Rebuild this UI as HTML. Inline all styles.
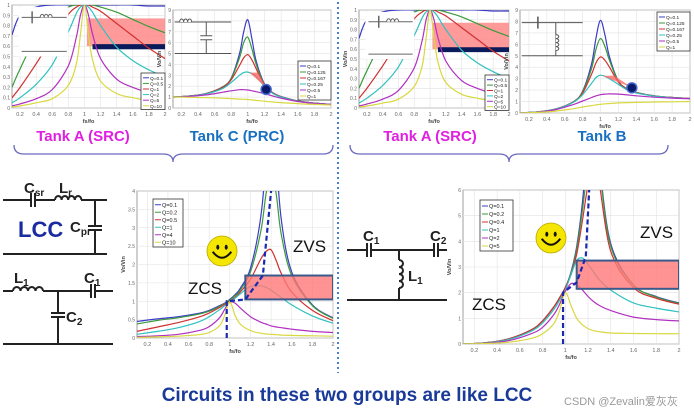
<!DOCTYPE html>
<html><head><meta charset="utf-8">
<style>
html,body{margin:0;padding:0;background:#fff;}
svg{display:block;font-family:"Liberation Sans","Noto Sans CJK SC",sans-serif;}
</style></head>
<body>
<svg id="s" width="694" height="417" viewBox="0 0 694 417" xmlns="http://www.w3.org/2000/svg">
<rect width="694" height="417" fill="#fff"/>
<g id="plots"></g>
<line x1="338" y1="2" x2="338" y2="373" stroke="#4a7fd0" stroke-width="2" stroke-dasharray="2,3"/>
<text x="83" y="141" font-size="15" font-weight="bold" fill="#e020e0" text-anchor="middle">Tank A (SRC)</text>
<text x="237" y="141" font-size="15" font-weight="bold" fill="#1a70c0" text-anchor="middle">Tank C (PRC)</text>
<text x="430" y="141" font-size="15" font-weight="bold" fill="#e020e0" text-anchor="middle">Tank A (SRC)</text>
<text x="602" y="141" font-size="15" font-weight="bold" fill="#1a70c0" text-anchor="middle">Tank B</text>
<path d="M14,145 Q14,154 24,154 L163,154 Q173,154 173,162 Q173,154 183,154 L323,154 Q333,154 333,145" fill="none" stroke="#6a6ac0" stroke-width="1.3"/>
<path d="M350,145 Q350,154 360,154 L499,154 Q509,154 509,162 Q509,154 519,154 L658,154 Q668,154 668,145" fill="none" stroke="#6a6ac0" stroke-width="1.3"/>
<text x="347" y="401" font-size="19" font-weight="bold" fill="#1a3a9a" text-anchor="middle">Circuits in these two groups are like LCC</text>
<text x="564" y="405" font-size="11" fill="#999">CSDN @Zevalin爱灰灰</text>

<g stroke="#222" stroke-width="2" fill="none">
<line x1="3" y1="200" x2="31" y2="200"/><line x1="31" y1="193" x2="31" y2="207"/><line x1="35" y1="193" x2="35" y2="207"/>
<line x1="35" y1="200" x2="55" y2="200"/>
<path d="M55,200 a3.3,4 0 0 1 6.6,0 a3.3,4 0 0 1 6.6,0 a3.3,4 0 0 1 6.6,0 a3.3,4 0 0 1 6.6,0"/>
<line x1="81" y1="200" x2="107" y2="200"/>
<line x1="95" y1="200" x2="95" y2="226"/><line x1="88" y1="226" x2="102" y2="226"/><line x1="88" y1="230" x2="102" y2="230"/><line x1="95" y1="230" x2="95" y2="254"/>
<line x1="3" y1="254" x2="107" y2="254"/>
</g>
<text x="24" y="193" font-size="15" font-weight="bold" fill="#222">C<tspan font-size="10" dy="3">sr</tspan></text>
<text x="59" y="193" font-size="15" font-weight="bold" fill="#222">L<tspan font-size="10" dy="3">r</tspan></text>
<text x="70" y="232" font-size="15" font-weight="bold" fill="#222">C<tspan font-size="10" dy="3">pr</tspan></text>
<text x="18" y="237" font-size="22" font-weight="bold" fill="#1a2aa0">LCC</text>
<g stroke="#222" stroke-width="2" fill="none">
<line x1="3" y1="291" x2="13" y2="291"/>
<path d="M13,291 a3.75,4 0 0 1 7.5,0 a3.75,4 0 0 1 7.5,0 a3.75,4 0 0 1 7.5,0 a3.75,4 0 0 1 7.5,0"/>
<line x1="43" y1="291" x2="91" y2="291"/><line x1="91" y1="284" x2="91" y2="298"/><line x1="95" y1="284" x2="95" y2="298"/><line x1="95" y1="291" x2="113" y2="291"/>
<line x1="58" y1="291" x2="58" y2="313"/><line x1="51" y1="313" x2="65" y2="313"/><line x1="51" y1="317" x2="65" y2="317"/><line x1="58" y1="317" x2="58" y2="344"/>
<line x1="3" y1="344" x2="113" y2="344"/>
</g>
<text x="14" y="283" font-size="15" font-weight="bold" fill="#222">L<tspan font-size="10" dy="3">1</tspan></text>
<text x="84" y="283" font-size="15" font-weight="bold" fill="#222">C<tspan font-size="10" dy="3">1</tspan></text>
<text x="66" y="322" font-size="15" font-weight="bold" fill="#222">C<tspan font-size="10" dy="3">2</tspan></text>
<g stroke="#222" stroke-width="2" fill="none">
<line x1="347" y1="250" x2="367" y2="250"/><line x1="367" y1="243" x2="367" y2="257"/><line x1="371" y1="243" x2="371" y2="257"/>
<line x1="371" y1="250" x2="434" y2="250"/><line x1="434" y1="243" x2="434" y2="257"/><line x1="438" y1="243" x2="438" y2="257"/><line x1="438" y1="250" x2="447" y2="250"/>
<line x1="399" y1="250" x2="399" y2="260"/>
<path d="M399,260 a4,3.5 0 0 1 0,7 a4,3.5 0 0 1 0,7 a4,3.5 0 0 1 0,7 a4,3.5 0 0 1 0,7"/>
<line x1="399" y1="288" x2="399" y2="300"/>
<line x1="347" y1="300" x2="447" y2="300"/>
</g>
<text x="363" y="241" font-size="15" font-weight="bold" fill="#222">C<tspan font-size="10" dy="3">1</tspan></text>
<text x="430" y="241" font-size="15" font-weight="bold" fill="#222">C<tspan font-size="10" dy="3">2</tspan></text>
<text x="408" y="281" font-size="15" font-weight="bold" fill="#222">L<tspan font-size="10" dy="3">1</tspan></text>
</svg>
<script>
const colors=["#3b3bc8","#3a9a3a","#d03030","#30c0c0","#b030c0","#d8d840"];
const xsSRC=[0.1,0.2,0.4,0.6,0.8,0.9,0.95,1,1.05,1.1,1.2,1.4,1.6,1.8,2];
const srcLabels=["Q=0.1","Q=0.5","Q=1","Q=2","Q=5","Q=10"];
const srcQ01=[0.71,0.9,0.98,1,1,1,1,1,1,1,1,1,1,0.99,0.99];
const srcQ05=[0.2,0.38,0.69,0.88,0.98,1,1,1,1,1,0.98,0.93,0.86,0.79,0.73];
const srcQ1=[0.1,0.2,0.43,0.68,0.91,0.98,1,1,1,0.98,0.94,0.82,0.7,0.58,0.48];
const srcQ2=[0.05,0.1,0.23,0.42,0.74,0.92,0.98,1,0.98,0.93,0.8,0.59,0.46,0.37,0.3];
const srcQ5=[0.02,0.04,0.09,0.18,0.41,0.69,0.9,1,0.9,0.72,0.48,0.28,0.2,0.15,0.12];
const srcQ10=[0.01,0.02,0.05,0.09,0.22,0.43,0.71,1,0.71,0.47,0.26,0.14,0.1,0.07,0.06];
const xsPRC=[0.1,0.3,0.5,0.7,0.8,0.9,0.95,1,1.05,1.1,1.2,1.3,1.4,1.6,1.8,2];
const prcLabels=["Q=0.1","Q=0.125","Q=0.167","Q=0.25","Q=0.5","Q=1"];
const prcQ1=[1.01,1.1,1.33,1.95,2.75,5.0,7.0,8.1,6.3,4.3,2.2,1.4,1.05,0.64,0.45,0.33];
const prcQ2=[1.01,1.1,1.33,1.94,2.7,4.6,6.0,6.5,5.4,4.0,2.15,1.4,1.04,0.64,0.45,0.33];
const prcQ3=[1.01,1.1,1.32,1.9,2.6,3.9,4.6,4.9,4.4,3.6,2.1,1.38,1.03,0.63,0.45,0.33];
const prcQ4=[1.0,1.09,1.3,1.8,2.35,3.0,3.25,3.3,3.15,2.9,2.0,1.33,1.0,0.62,0.44,0.33];
const prcQ5=[1.0,1.07,1.2,1.45,1.58,1.68,1.68,1.65,1.58,1.5,1.32,1.1,0.9,0.6,0.43,0.32];
const prcQ6=[1.0,0.98,0.95,0.9,0.86,0.82,0.8,0.78,0.74,0.7,0.62,0.55,0.5,0.4,0.33,0.28];
const tbQ1=[0,0.1,0.35,1.0,1.9,4.3,6.6,8.1,6.8,4.9,2.8,2.1,1.8,1.5,1.35,1.27];
const tbQ2=[0,0.1,0.35,1.0,1.85,3.9,5.6,6.5,5.8,4.6,2.75,2.1,1.8,1.5,1.35,1.27];
const tbQ3=[0,0.1,0.35,0.98,1.75,3.4,4.4,4.9,4.6,4.0,2.7,2.05,1.78,1.5,1.35,1.27];
const tbQ4=[0,0.1,0.34,0.95,1.6,2.6,3.1,3.3,3.2,3.0,2.5,2.0,1.75,1.48,1.34,1.26];
const tbQ5=[0,0.08,0.3,0.75,1.05,1.35,1.5,1.6,1.65,1.67,1.65,1.58,1.5,1.38,1.3,1.25];
const tbQ6=[0,0.05,0.17,0.38,0.52,0.65,0.71,0.76,0.8,0.83,0.88,0.91,0.93,0.96,0.98,1.0];
const xsLCC=[0.1,0.3,0.5,0.7,0.8,0.9,0.95,1,1.05,1.1,1.2,1.3,1.35,1.4,1.45,1.5,1.6,1.8,2];
const lccLabels=["Q=0.1","Q=0.2","Q=0.5","Q=1","Q=4","Q=10"];
const lccQ1=[0.45,0.52,0.58,0.67,0.75,0.88,0.95,1.05,1.18,1.35,1.9,3.3,5,8,5,3.2,1.8,0.9,0.55];
const lccQ2=[0.38,0.48,0.55,0.65,0.73,0.86,0.94,1.03,1.15,1.3,1.8,2.9,3.9,4.6,3.9,2.8,1.7,0.88,0.53];
const lccQ3=[0.18,0.3,0.42,0.57,0.68,0.83,0.92,1.0,1.1,1.25,1.6,2.15,2.35,2.4,2.1,1.75,1.25,0.75,0.47];
const lccQ4=[0.1,0.18,0.28,0.44,0.58,0.77,0.88,0.98,1.08,1.2,1.4,1.42,1.38,1.3,1.2,1.1,0.9,0.6,0.4];
const lccQ5=[0.04,0.06,0.1,0.2,0.31,0.55,0.78,0.98,0.95,0.82,0.58,0.43,0.38,0.33,0.3,0.28,0.24,0.18,0.15];
const lccQ6=[0.02,0.03,0.05,0.09,0.15,0.33,0.62,0.98,0.62,0.38,0.2,0.13,0.11,0.1,0.09,0.08,0.07,0.06,0.05];
const xsR=[0.1,0.3,0.5,0.7,0.8,0.9,0.95,1,1.05,1.1,1.15,1.2,1.25,1.3,1.4,1.6,1.8,2];
const rLabels=["Q=0.1","Q=0.2","Q=0.4","Q=1","Q=2","Q=5"];
const rQ1=[0,0.05,0.2,0.55,0.9,1.45,1.8,2.2,2.8,3.8,5.5,8,9,7,3.9,2.3,1.85,1.6];
const rQ2=[0,0.05,0.2,0.55,0.9,1.45,1.8,2.2,2.75,3.7,5.2,7,8,6.8,3.8,2.3,1.83,1.58];
const rQ3=[0,0.05,0.2,0.55,0.9,1.45,1.8,2.2,2.7,3.5,4.8,6.2,6.8,6.2,3.6,2.2,1.78,1.55];
const rQ4=[0,0.04,0.17,0.5,0.82,1.35,1.7,2.1,2.7,3.25,3.35,3.1,2.8,2.5,2.1,1.6,1.4,1.25];
const rQ5=[0,0.03,0.13,0.4,0.65,1.15,1.55,2.05,2.35,2.3,2.1,1.85,1.65,1.5,1.3,1.05,0.95,0.9];
const rQ6=[0,0.02,0.07,0.22,0.4,0.8,1.3,2.0,1.5,1.0,0.75,0.6,0.52,0.48,0.43,0.41,0.4,0.4];
const xTicks=["0.2","0.4","0.6","0.8","1","1.2","1.4","1.6","1.8","2"];

const NS="http://www.w3.org/2000/svg";
const root=document.getElementById('plots');
function mk(t,a,p){const e=document.createElementNS(NS,t);for(const k in a)e.setAttribute(k,a[k]);(p||root).appendChild(e);return e;}
function smooth(P){let d=`M${P[0][0].toFixed(1)},${P[0][1].toFixed(1)}`;
  for(let i=0;i<P.length-1;i++){const p0=P[i-1]||P[i],p1=P[i],p2=P[i+1],p3=P[i+2]||P[i+1];
    const c1=[p1[0]+(p2[0]-p0[0])/6,p1[1]+(p2[1]-p0[1])/6],c2=[p2[0]-(p3[0]-p1[0])/6,p2[1]-(p3[1]-p1[1])/6];
    d+=` C${c1[0].toFixed(1)},${c1[1].toFixed(1)} ${c2[0].toFixed(1)},${c2[1].toFixed(1)} ${p2[0].toFixed(1)},${p2[1].toFixed(1)}`;}
  return d;}
let cid=0;
function plot(o){
  const g=mk('g',{});
  
  
  const X=v=>o.l+(v-0.1)/(1.9)*(o.r-o.l);
  const Y=v=>o.b-(v/o.ymax)*(o.b-o.t);
  mk('rect',{x:o.l,y:o.t,width:o.r-o.l,height:o.b-o.t,fill:'#fff',stroke:'#888','stroke-width':0.8},g);
  for(let i=0;i<xTicks.length;i++){const v=parseFloat(xTicks[i]);const x=X(v);
    mk('line',{x1:x,y1:o.t,x2:x,y2:o.b,stroke:'#e2e2e2','stroke-width':0.6},g);
    const t=mk('text',{x:x,y:o.b+8,'font-size':5.5,'text-anchor':'middle',fill:'#666'},g);t.textContent=xTicks[i];
    }
  for(let v=0;v<=o.ymax+1e-9;v+=o.ystep){const y=Y(v);
    mk('line',{x1:o.l,y1:y,x2:o.r,y2:y,stroke:'#e2e2e2','stroke-width':0.6},g);
    const t=mk('text',{x:o.l-2,y:y+2,'font-size':5,'text-anchor':'end',fill:'#666'},g);t.textContent=+v.toFixed(2);
    }
  const xl=mk('text',{x:(o.l+o.r)/2,y:o.b+15,'font-size':5.5,'text-anchor':'middle',fill:'#444','font-weight':'bold'},g);xl.textContent='fs/fo';
  
  const yl=mk('text',{x:0,y:0,'font-size':5.5,'text-anchor':'middle',fill:'#444','font-weight':'bold',transform:`translate(${o.l-12},${(o.t+o.b)/2}) rotate(-90)`},g);yl.textContent='Vo/Vin';
  
  const id='c'+(cid++);
  const cp=mk('clipPath',{id:id},g);mk('rect',{x:o.l,y:o.t,width:o.r-o.l,height:o.b-o.t},cp);
  const cg=mk('g',{'clip-path':`url(#${id})`},g);
  if(o.pre)o.pre(cg,X,Y);
  o.series.forEach((s,i)=>{
    const P=o.xs.map((x,j)=>[X(x),Y(s[j])]);
    const pl=mk('path',{d:smooth(P),fill:'none',stroke:colors[i],'stroke-width':1.2,'stroke-linejoin':'round'},cg);
    
    
  });
  if(o.post)o.post(cg,X,Y);
  const L=o.leg;const lg=mk('g',{},g);
  
  mk('rect',{x:L.x,y:L.y,width:L.w,height:o.labels.length*L.h+3,fill:'#fff',stroke:'#333','stroke-width':0.8},lg);
  o.labels.forEach((lab,i)=>{const yy=L.y+2+L.h*(i+0.5);
    mk('line',{x1:L.x+2,y1:yy,x2:L.x+8,y2:yy,stroke:colors[i],'stroke-width':1},lg);
    const t=mk('text',{x:L.x+9,y:yy+2,'font-size':L.f,fill:'#222'},lg);t.textContent=lab;
    });
  return {g,X,Y};
}
function srcPre(cg,X,Y){
  mk('rect',{x:X(1.03),y:Y(0.87),width:X(2)-X(1.03),height:Y(0.6)-Y(0.87),fill:'#f88','fill-opacity':0.85},cg);
  mk('rect',{x:X(1.1),y:Y(0.62),width:X(2)-X(1.1),height:Y(0.57)-Y(0.62),fill:'#0a1a5a'},cg);
}
function srcInset(cg,X,Y){
  mk('rect',{x:X(0.18),y:Y(0.98),width:X(0.8)-X(0.18),height:Y(0.5)-Y(0.98),fill:'#fff'},cg);
  const y1=Y(0.88),y2=Y(0.55),x1=X(0.22),x2=X(0.78);
  mk('line',{x1:x1,y1:y1,x2:x2,y2:y1,stroke:'#666','stroke-width':1},cg);
  mk('line',{x1:x1,y1:y2,x2:x2,y2:y2,stroke:'#666','stroke-width':1},cg);
  mk('line',{x1:X(0.35),y1:y1-6,x2:X(0.35),y2:y1+6,stroke:'#666','stroke-width':1.5},cg);
  mk('path',{d:`M${X(0.45)},${y1} a2,3 0 0 1 4,0 a2,3 0 0 1 4,0 a2,3 0 0 1 4,0`,fill:'#fff',stroke:'#666'},cg);
}
plot({name:'tank-a-chart-left',l:12,r:165,t:5,b:108,ymax:1,ystep:0.1,xs:xsSRC,series:[srcQ01,srcQ05,srcQ1,srcQ2,srcQ5,srcQ10],labels:srcLabels,
  leg:{x:141,y:73,w:24,h:5.6,f:4.8},pre:srcPre,post:srcInset});
plot({name:'tank-a-chart-right',l:359,r:509,t:10,b:108,ymax:1,ystep:0.1,xs:xsSRC,series:[srcQ01,srcQ05,srcQ1,srcQ2,srcQ5,srcQ10],labels:srcLabels,
  leg:{x:485,y:75,w:24,h:5.4,f:4.8},pre:srcPre,post:srcInset});
function bigInset(cg,X,Y,ind){
  const x1=X(0.12),x2=X(0.8),y1=Y(7.9),y2=Y(5.0),xm=X(0.5);
  mk('line',{x1:x1,y1:y1,x2:x2,y2:y1,stroke:'#555',"stroke-width":1},cg);
  mk('line',{x1:x1,y1:y2,x2:x2,y2:y2,stroke:'#555',"stroke-width":1},cg);
  if(ind){mk('line',{x1:X(0.3),y1:y1-6,x2:X(0.3),y2:y1+6,stroke:'#555','stroke-width':1.5},cg);
    mk('line',{x1:xm,y1:y1,x2:xm,y2:y2,stroke:'#555'},cg);
    mk('path',{d:`M${xm},${y1+12} a3,2 0 0 1 0,4 a3,2 0 0 1 0,4 a3,2 0 0 1 0,4 a3,2 0 0 1 0,4`,fill:'#fff',stroke:'#555'},cg);}
  else{mk('path',{d:`M${X(0.18)},${y1} a2,3 0 0 1 4,0 a2,3 0 0 1 4,0 a2,3 0 0 1 4,0`,fill:'#fff',stroke:'#555'},cg);
    mk('line',{x1:xm,y1:y1,x2:xm,y2:y2,stroke:'#555'},cg);
    mk('rect',{x:xm-6,y:(y1+y2)/2-2,width:12,height:4,fill:'#fff',stroke:'none'},cg);
    mk('line',{x1:xm-6,y1:(y1+y2)/2-2,x2:xm+6,y2:(y1+y2)/2-2,stroke:'#555'},cg);
    mk('line',{x1:xm-6,y1:(y1+y2)/2+2,x2:xm+6,y2:(y1+y2)/2+2,stroke:'#555'},cg);}
}
plot({name:'tank-c-chart',l:173,r:331,t:10,b:108,ymax:9,ystep:1,xs:xsPRC,series:[prcQ1,prcQ2,prcQ3,prcQ4,prcQ5,prcQ6],labels:prcLabels,
  leg:{x:298,y:61,w:33,h:6,f:4.8},pre:(cg,X,Y)=>bigInset(cg,X,Y,false),
  post:(cg,X,Y)=>{mk('polygon',{points:`${X(1.02)},${Y(3.25)} ${X(1.12)},${Y(3.25)} ${X(1.23)},${Y(1.8)}`,fill:'#f66','fill-opacity':0.8},cg);
    mk('circle',{cx:X(1.22),cy:Y(1.7),r:5,fill:'#0a1a6a',stroke:'#4a6ad0','stroke-width':1.5},cg);}});
plot({name:'tank-b-chart',l:520,r:690,t:10,b:113,ymax:9,ystep:1,xs:xsPRC,series:[tbQ1,tbQ2,tbQ3,tbQ4,tbQ5,tbQ6],labels:prcLabels,
  leg:{x:657,y:12,w:33,h:6,f:4.8},pre:(cg,X,Y)=>bigInset(cg,X,Y,true),
  post:(cg,X,Y)=>{mk('polygon',{points:`${X(1.02)},${Y(3.25)} ${X(1.15)},${Y(3.25)} ${X(1.36)},${Y(2.2)}`,fill:'#f66','fill-opacity':0.8},cg);
    mk('circle',{cx:X(1.35),cy:Y(2.2),r:5,fill:'#0a1a6a',stroke:'#4a6ad0','stroke-width':1.5},cg);}});
function zz(cg,X,Y,rect,dash){
  const r=mk('rect',{x:X(rect[0]),y:Y(rect[3]),width:X(rect[1])-X(rect[0]),height:Y(rect[2])-Y(rect[3]),fill:'#f77','fill-opacity':0.8,stroke:'#3a5a8a','stroke-width':2},cg);
  
  mk('polyline',{points:dash.map(p=>X(p[0])+','+Y(p[1])).join(' '),fill:'none',stroke:'#1a2ab0','stroke-width':2.2,'stroke-dasharray':'5,3'},cg);
}
function smiley(g,cx,cy,r){
  mk('circle',{cx:cx,cy:cy,r:r,fill:'#f4e600',stroke:'#b8a800','stroke-width':0.8},g);
  mk('ellipse',{cx:cx-r*0.28,cy:cy-r*0.25,rx:r*0.1,ry:r*0.17,fill:'#111'},g);
  mk('ellipse',{cx:cx+r*0.28,cy:cy-r*0.25,rx:r*0.1,ry:r*0.17,fill:'#111'},g);
  mk('path',{d:`M${cx-r*0.62},${cy+r*0.05} Q${cx},${cy+r*0.85} ${cx+r*0.62},${cy+r*0.05}`,fill:'none',stroke:'#111','stroke-width':2},g);
}
const p5=plot({name:'lcc-chart',l:137,r:333,t:191,b:338,ymax:4,ystep:0.5,xs:xsLCC,series:[lccQ1,lccQ2,lccQ3,lccQ4,lccQ5,lccQ6],labels:lccLabels,
  leg:{x:153,y:199,w:30,h:7.5,f:5.5},post:(cg,X,Y)=>zz(cg,X,Y,[1.15,2,1.05,1.7],[[0.97,0],[0.97,1],[1.02,1.01],[1.15,1.05],[1.32,1.7],[1.4,4]])});
smiley(p5.g,222,251,15);
let t=mk('text',{x:293,y:252,'font-size':17,fill:'#111'});t.textContent='ZVS';
t=mk('text',{x:188,y:294,'font-size':17,fill:'#111'});t.textContent='ZCS';
const p6=plot({name:'right-lcc-chart',l:463,r:679,t:190,b:344,ymax:6,ystep:1,xs:xsR,series:[rQ1,rQ2,rQ3,rQ4,rQ5,rQ6],labels:rLabels,
  leg:{x:480,y:200,w:33,h:8,f:5.5},post:(cg,X,Y)=>zz(cg,X,Y,[1.1,2,2.15,3.25],[[0.98,0],[0.98,2],[1.1,2.4],[1.18,3.4],[1.21,6]])});
smiley(p6.g,551,238,15);
t=mk('text',{x:640,y:238,'font-size':17,fill:'#111'});t.textContent='ZVS';
t=mk('text',{x:472,y:310,'font-size':17,fill:'#111'});t.textContent='ZCS';
</script>
</body></html>
